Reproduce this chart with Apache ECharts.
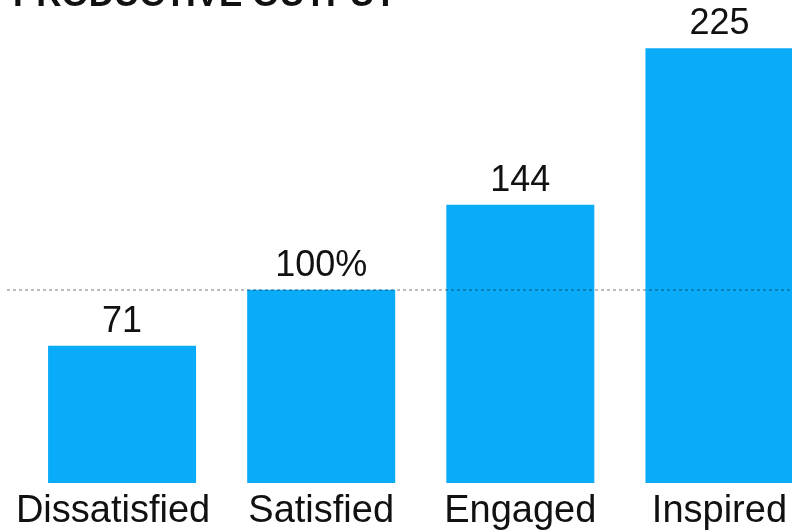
<!DOCTYPE html>
<html>
<head>
<meta charset="utf-8">
<script src="https://cdn.jsdelivr.net/npm/echarts@6/dist/echarts.min.js"></script>
<style>
html,body{margin:0;padding:0;background:#fff;overflow:hidden;}
#wrap{width:792px;height:531px;overflow:hidden;}
#c{width:819px;height:531px;}
</style>
</head>
<body>
<div id="wrap"><div id="c"></div></div>
<script>
const titleText = 'PRODUCTIVE OUTPUT';
const categories = ['Dissatisfied', 'Satisfied', 'Engaged', 'Inspired'];
const values = [71, 100, 144, 225];
const valueLabels = ['71', '100%', '144', '225'];
const referenceValue = 100;

const chart = echarts.init(document.getElementById('c'), null, {renderer: 'canvas'});
chart.setOption({
  animation: false,
  backgroundColor: '#ffffff',
  title: {
    text: titleText,
    left: 8,
    top: -26,
    textStyle: {fontFamily: 'Liberation Sans', fontSize: 35, fontWeight: 900, color: '#111'}
  },
  grid: [
    {left: 22.5, right: 0, top: 0, bottom: 48, containLabel: false},
    {left: 7, right: 27, top: 0, bottom: 48, containLabel: false}
  ],
  xAxis: [
    {
      type: 'category', gridIndex: 0,
      data: categories.map((c, i) => i === 0 ? {value: c, textStyle: {padding: [0, 18, 0, 0]}} : c),
      axisLine: {show: false}, axisTick: {show: false},
      axisLabel: {margin: 10, fontFamily: 'Liberation Sans', fontSize: 38, color: '#111', interval: 0}
    },
    {type: 'value', gridIndex: 1, min: 0, max: 1, show: false}
  ],
  yAxis: [
    {type: 'value', gridIndex: 0, min: 0, max: 250, show: false},
    {type: 'value', gridIndex: 1, min: 0, max: 250, show: false}
  ],
  series: [
    {
      type: 'bar', xAxisIndex: 0, yAxisIndex: 0,
      data: values, barWidth: 148,
      itemStyle: {color: '#0aabf8'},
      label: {
        show: true, position: 'top', distance: 6,
        formatter: p => valueLabels[p.dataIndex],
        fontFamily: 'Liberation Sans', fontSize: 36, color: '#111'
      },
      z: 2
    },
    {
      type: 'line', xAxisIndex: 1, yAxisIndex: 1, data: [],
      z: 5,
      markLine: {
        silent: true, symbol: 'none', label: {show: false},
        lineStyle: {type: [3, 3], color: 'rgba(0,0,0,0.35)', width: 1.5},
        data: [{yAxis: referenceValue}]
      }
    }
  ]
});
</script>
</body>
</html>
